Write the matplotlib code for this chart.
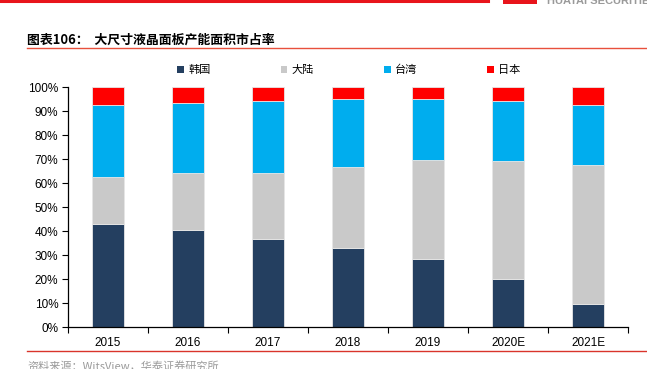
import matplotlib

matplotlib.use("Agg")
import matplotlib.pyplot as plt
import numpy as np
from matplotlib.patches import Rectangle
from matplotlib.lines import Line2D

plt.rcParams["font.family"] = ["Liberation Sans", "Noto Sans CJK SC", "DejaVu Sans"]

# data: share of large-size LCD panel capacity area (%)
years = ["2015", "2016", "2017", "2018", "2019", "2020E", "2021E"]
korea = [42.9, 40.4, 36.7, 32.8, 28.2, 20.1, 9.6]
mainland = [19.5, 23.8, 27.6, 33.7, 41.4, 49.1, 57.9]
taiwan = [30.2, 29.0, 30.0, 28.4, 25.5, 25.0, 25.0]
japan = [7.4, 6.8, 5.7, 5.1, 4.9, 5.8, 7.5]

series_names = ["韩国", "大陆", "台湾", "日本"]
colors = ["#243F60", "#C9C9C9", "#00ADEE", "#FF0000"]

CJK = ["Noto Sans CJK SC", "DejaVu Sans"]

fig = plt.figure(figsize=(6.47, 3.69), dpi=100)
ax = fig.add_axes([68 / 647, 1 - 327 / 369, 560 / 647, 240 / 369])

x = np.arange(len(years))
bottom = np.zeros(len(years))
for vals, name, c in zip([korea, mainland, taiwan, japan], series_names, colors):
    v = np.array(vals) / 100.0
    ax.bar(x, v, width=0.4, bottom=bottom, color=c, edgecolor="#E6E6E6",
           linewidth=0.6, label=name, zorder=2)
    bottom += v

ax.set_xlim(-0.5, len(years) - 0.5)
ax.set_ylim(0, 1.0)
ax.set_yticks(np.arange(0, 1.01, 0.1))
ax.set_yticklabels([f"{int(round(t * 100))}%" for t in np.arange(0, 1.01, 0.1)])
ax.set_xticks(x)
ax.set_xticklabels(years)
ax.set_xticks(np.arange(-0.5, len(years), 1.0), minor=True)
ax.tick_params(axis="x", which="major", length=0, pad=7, labelsize=8.5)
ax.tick_params(axis="x", which="minor", length=4, width=0.8, direction="out")
ax.tick_params(axis="y", length=4, width=0.8, direction="out", labelsize=8.5, pad=3)
for s in ["top", "right"]:
    ax.spines[s].set_visible(False)
for s in ["left", "bottom"]:
    ax.spines[s].set_linewidth(0.9)
    ax.spines[s].set_color("black")

# legend
handles = [Rectangle((0, 0), 1, 1, facecolor=c, edgecolor="none") for c in colors]
leg = fig.legend(handles, series_names, loc="center", bbox_to_anchor=(349 / 647, 1 - 70 / 369),
                 ncol=4, frameon=False, prop={"family": CJK, "size": 8},
                 handlelength=0.6, handleheight=0.6, handletextpad=0.4, columnspacing=6.3)

# header / footer decorations
fig.add_artist(Line2D([0, 488 / 647], [1 - 1 / 369, 1 - 1 / 369], color="#E8141B", lw=2.2))
fig.add_artist(Rectangle((503 / 647, 1 - 4 / 369), 34 / 647, 4 / 369, facecolor="#E8141B",
                         edgecolor="none", transform=fig.transFigure))
fig.text(547 / 647, 1 - 1 / 369, "HUATAI SECURITIES", fontsize=8, color="#9A9A9A",
         fontweight="bold", va="center", ha="left")

fig.text(27 / 647, 1 - 40 / 369, "图表106：  大尺寸液晶面板产能面积市占率", fontsize=9.3,
         fontweight="bold", family=CJK, va="center", ha="left")
fig.add_artist(Line2D([27 / 647, 1], [1 - 48 / 369, 1 - 48 / 369], color="#E8503C", lw=1.0))

fig.add_artist(Line2D([27 / 647, 1], [1 - 351 / 369, 1 - 351 / 369], color="#D9342B", lw=1.0))
fig.text(27 / 647, 1 - 366 / 369, "资料来源：WitsView，华泰证券研究所", fontsize=8,
         color="#9A9A9A", family=CJK, va="center", ha="left")

fig.savefig("out.png", dpi=100)
